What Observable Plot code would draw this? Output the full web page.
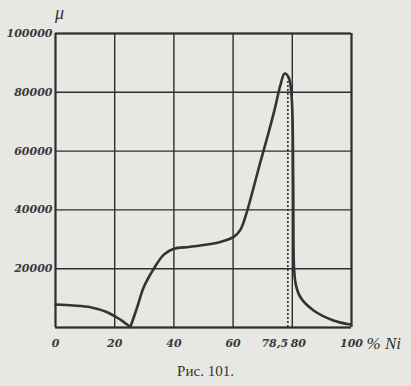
<!DOCTYPE html>
<html>
<head>
<meta charset="utf-8">
<script src="https://cdn.jsdelivr.net/npm/d3@7"></script>
<script src="https://cdn.jsdelivr.net/npm/@observablehq/plot@0.6"></script>
<style>
  html, body { margin: 0; padding: 0; background: #e7e7e3; }
  #wrap { width: 411px; height: 386px; position: relative; overflow: hidden; }
  #caption { position: absolute; left: 0; width: 411px; top: 363px; text-align: center;
    font-family: "Liberation Serif", serif; font-size: 15px; color: #333; }
</style>
</head>
<body>
<div id="wrap">
  <div id="chart"></div>
  <div id="caption">Рис. 101.</div>
</div>
<script>
// --- data ---
const segLeftX = [0, 6, 11.8, 17.5, 22, 25.3];
const segLeftY = [7800, 7500, 6900, 5200, 2600, 200];
const segRightX = [25.3, 27.6, 29.8, 33.2, 36.6, 40, 45, 49, 55.7, 60.2, 62.5, 64.5, 66.5, 69, 71.5, 74, 76, 77.4, 78.8, 79.8, 80.3, 80.6, 81.2, 82.8, 87.2, 93.9, 99.7];
const segRightY = [200, 6900, 13700, 20000, 24800, 26800, 27400, 27900, 29100, 30800, 33300, 38800, 46000, 55500, 64500, 74000, 82500, 86400, 85000, 78000, 50000, 20000, 14500, 10200, 5800, 2400, 1000];
const peakX = [78.5];
const peakY = [84500];
const xGrid = [0, 20, 40, 60, 80, 100];
const yGrid = [0, 20000, 40000, 60000, 80000, 100000];
const xTickValues = [0, 20, 40, 60, 100];
const xTickLabels = ["0", "20", "40", "60", "100"];
const xSpecialValues = [78.5, 80];
const xSpecialLabels = ["78,5", "80"];
const yTickValues = [20000, 40000, 60000, 80000, 100000];
const yTickLabels = ["20000", "40000", "60000", "80000", "100000"];
const xUnit = "% Ni";
const yUnit = "μ";

const curve = [
  ...segLeftX.map((x, i) => ({x, y: segLeftY[i], s: "a"})),
  ...segRightX.map((x, i) => ({x, y: segRightY[i], s: "b"}))
];
const ink = "#2e2e2e";
const labelFont = "DejaVu Serif";

const chart = Plot.plot({
  width: 411,
  height: 352,
  marginLeft: 55,
  marginRight: 60,
  marginTop: 33,
  marginBottom: 25,
  style: {background: "transparent", overflow: "visible"},
  x: {domain: [0, 100], axis: null},
  y: {domain: [0, 100000], axis: null},
  marks: [
    Plot.ruleX(xGrid, {stroke: ink, strokeWidth: 1.4}),
    Plot.ruleY(yGrid, {stroke: ink, strokeWidth: 1.4}),
    Plot.ruleX([0, 100], {stroke: ink, strokeWidth: 2}),
    Plot.ruleY([0, 100000], {stroke: ink, strokeWidth: 2}),
    Plot.ruleX(peakX, {y1: 0, y2: peakY[0], stroke: ink, strokeWidth: 1.6, strokeDasharray: "2,2"}),
    Plot.line(curve, {x: "x", y: "y", z: "s", curve: "catmull-rom", stroke: "#333", strokeWidth: 2.6}),
    Plot.text(yTickValues, {x: 0, y: d => d, text: (d, i) => yTickLabels[i], textAnchor: "end", dx: -3,
      fontFamily: labelFont, fontStyle: "italic", fontWeight: "bold", fontSize: 11, fill: "#3a3a3a"}),
    Plot.text(xTickValues, {x: d => d, y: 0, text: (d, i) => xTickLabels[i], dy: 16,
      fontFamily: labelFont, fontStyle: "italic", fontWeight: "bold", fontSize: 11, fill: "#3a3a3a"}),
    Plot.text([xSpecialValues[0]], {x: d => d, y: 0, text: [xSpecialLabels[0]], dy: 16, dx: -13,
      fontFamily: labelFont, fontStyle: "italic", fontWeight: "bold", fontSize: 11, fill: "#3a3a3a"}),
    Plot.text([xSpecialValues[1]], {x: d => d, y: 0, text: [xSpecialLabels[1]], dy: 16, dx: 6,
      fontFamily: labelFont, fontStyle: "italic", fontWeight: "bold", fontSize: 11, fill: "#3a3a3a"}),
    Plot.text([xUnit], {x: 100, y: 0, text: d => d, dy: 16, dx: 15, textAnchor: "start",
      fontFamily: "Liberation Serif", fontStyle: "italic", fontSize: 17, fill: "#333"}),
    Plot.text([yUnit], {x: 0, y: 100000, text: d => d, dy: -20, dx: 4,
      fontFamily: "Liberation Serif", fontStyle: "italic", fontSize: 18, fill: "#333"})
  ]
});
document.getElementById("chart").appendChild(chart);
</script>
</body>
</html>
